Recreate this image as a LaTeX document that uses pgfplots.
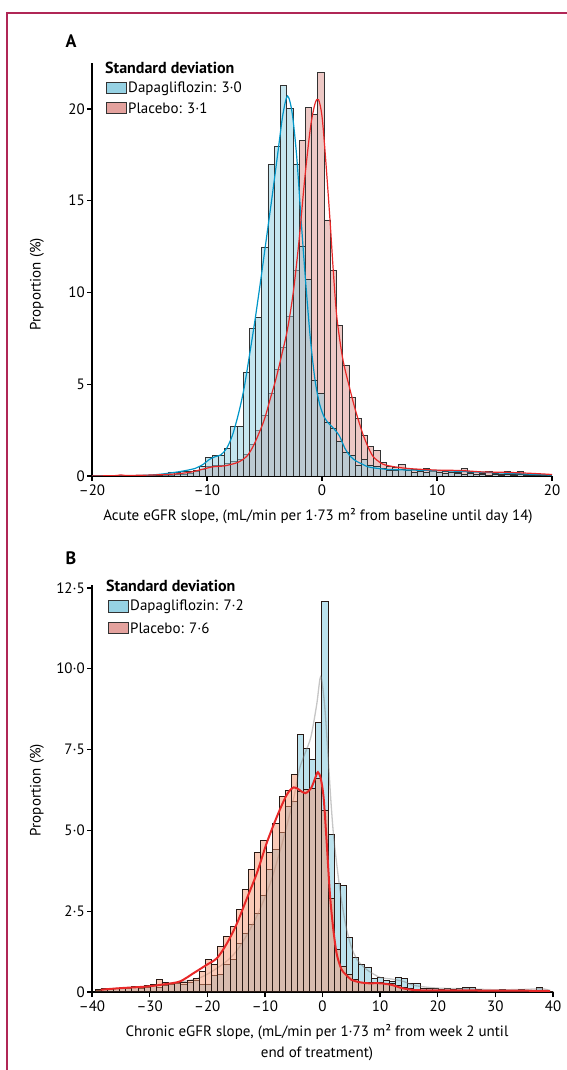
\documentclass[border=0pt]{standalone}
\usepackage{fontspec}
\setmainfont{PT Sans}
\usepackage{pgfplots}
\usepackage{pgfplotstable}
\pgfplotsset{compat=1.18}

\definecolor{dapaA}{RGB}{140,205,224}
\definecolor{placA}{RGB}{237,200,197}
\definecolor{lineblue}{RGB}{0,150,200}
\definecolor{linered}{RGB}{232,40,40}
\definecolor{dapaB}{RGB}{188,226,237}
\definecolor{placB}{RGB}{245,150,112}
\definecolor{edgeA}{RGB}{50,50,50}
\definecolor{edgeB}{RGB}{40,25,20}
\definecolor{frame}{RGB}{176,38,86}
\definecolor{swBlue}{RGB}{150,210,228}
\definecolor{swRed}{RGB}{228,162,158}

\newcommand\lf{\fontsize{15}{17}\selectfont}

% Panel A histogram: left bin edge, dapagliflozin %, placebo %
\pgfplotstableread{
e d p
-19.84 0 0
-19.30 0 0
-18.76 0 0
-18.22 0 0.03
-17.68 0 0.05
-17.14 0 0.03
-16.60 0 0
-16.06 0.02 0
-15.52 0.02 0.02
-14.98 0.03 0.02
-14.43 0.05 0.03
-13.89 0.08 0.05
-13.35 0.22 0.05
-12.81 0.18 0.08
-12.27 0.27 0.1
-11.73 0.27 0.15
-11.19 0.31 0.25
-10.65 0.5 0.35
-10.11 1.03 0.5
-9.56 1.13 0.55
-9.02 1.13 0.6
-8.48 1.52 0.7
-7.94 2.7 0.8
-7.40 2.7 0.9
-6.86 5.66 1.2
-6.32 8.05 1.7
-5.78 8.65 2.5
-5.24 12.45 3.3
-4.70 16.95 4.5
-4.15 17.95 5.8
-3.61 21.3 7.0
-3.07 20.0 8.7
-2.53 17.0 11.2
-1.99 12.5 18.3
-1.45 10.7 20.1
-0.91 5.2 19.7
-0.37 4.5 22.0
0.17 2.9 13.95
0.72 2.6 11.2
1.26 1.9 8.2
1.80 1.3 6.0
2.34 1.1 4.3
2.88 0.6 3.15
3.42 0.9 2.2
3.96 0.6 1.6
4.50 0.5 1.38
5.04 0.4 0.73
5.58 0.3 0.5
6.13 0.3 0.45
6.67 0.35 0.65
7.21 0.3 0.4
7.75 0.2 0.35
8.29 0.25 0.3
8.83 0.2 0.4
9.37 0.3 0.25
9.91 0.2 0.3
10.45 0.15 0.25
10.99 0.2 0.3
11.54 0.15 0.2
12.08 0.1 0.4
12.62 0.15 0.2
13.16 0.1 0.25
13.70 0.1 0.15
14.24 0.05 0.27
14.78 0.1 0.15
15.32 0.05 0.1
15.86 0.1 0.27
16.40 0.05 0.1
16.95 0.1 0.27
17.49 0.05 0.1
18.03 0.05 0.05
18.57 0.02 0.05
19.11 0.02 0.03
19.65 0 0
20.19 0 0
}\histA

\pgfplotstableread{
x y
-20 0
-17 0.01
-15 0.05
-14 0.1
-13 0.18
-12 0.28
-11 0.42
-10.3 0.65
-9.8 0.9
-9.3 1.05
-8.8 1.15
-8.3 1.5
-7.8 2.2
-7.3 3.3
-6.8 4.7
-6.3 6.6
-5.8 8.6
-5.3 10.8
-4.8 13.1
-4.3 15.4
-3.8 17.8
-3.4 19.7
-3.0 20.7
-2.6 19.8
-2.2 17.4
-1.8 13.8
-1.4 10.4
-1.0 7.4
-0.6 5.2
-0.2 3.9
0.2 3.2
0.6 2.85
1.0 2.6
1.5 2.2
2.0 1.5
2.5 1.05
3.0 0.8
3.5 0.65
4.0 0.5
5.0 0.4
6.0 0.35
8.0 0.32
10 0.3
12 0.25
14 0.2
16 0.15
18 0.1
20 0.05
}\kdeAd

\pgfplotstableread{
x y
-20 0
-18 0.02
-17.5 0.06
-17 0.03
-15 0.05
-13 0.1
-11.5 0.2
-10.5 0.35
-9.5 0.5
-8.5 0.55
-7.5 0.7
-7.0 0.85
-6.5 1.1
-6.0 1.6
-5.5 2.3
-5.0 3.1
-4.5 4.2
-4.0 5.3
-3.5 6.6
-3.0 8.0
-2.5 10.0
-2.0 12.8
-1.5 16.2
-1.0 19.0
-0.6 20.3
-0.3 20.5
0.0 19.6
0.3 17.4
0.7 13.9
1.0 11.0
1.3 8.6
1.8 6.4
2.4 4.8
2.9 3.6
3.6 2.2
4.3 1.2
4.8 0.85
5.5 0.6
7.3 0.42
10 0.32
12 0.3
14 0.22
16 0.2
18 0.15
19.5 0.1
20 0.08
}\kdeAp

% Panel B histogram
\pgfplotstableread{
e d p
-39.46 0.05 0.08
-38.39 0.1 0.08
-37.33 0.08 0.1
-36.26 0.1 0.12
-35.20 0.12 0.1
-34.14 0.1 0.15
-33.07 0.15 0.18
-32.01 0.12 0.15
-30.94 0.15 0.2
-29.88 0.2 0.22
-28.82 0.15 0.38
-27.75 0.2 0.3
-26.69 0.22 0.25
-25.62 0.25 0.3
-24.56 0.22 0.3
-23.50 0.3 0.35
-22.43 0.35 0.42
-21.37 0.22 0.63
-20.30 0.22 0.99
-19.24 0.5 0.84
-18.18 0.53 1.4
-17.11 0.84 1.73
-16.05 1.0 2.02
-14.98 1.5 2.54
-13.92 1.8 3.16
-12.86 2.1 3.78
-11.79 2.44 4.3
-10.73 3.0 4.7
-9.66 3.78 4.3
-8.60 4.4 5.2
-7.54 4.94 6.05
-6.47 5.74 6.23
-5.41 5.9 6.72
-4.34 7.96 6.2
-3.28 7.54 6.25
-2.22 7.2 6.3
-1.15 8.34 6.6
-0.09 12.08 5.6
0.98 4.86 2.9
2.04 3.36 1.3
3.10 3.28 0.8
4.17 1.68 0.55
5.23 1.06 0.4
6.30 0.84 0.3
7.36 0.75 0.3
8.42 0.42 0.3
9.49 0.44 0.28
10.55 0.37 0.27
11.62 0.32 0.25
12.68 0.45 0.2
13.74 0.42 0.15
14.81 0.27 0.1
15.87 0.27 0.08
16.94 0.12 0.06
18.00 0.1 0.06
19.06 0.1 0.05
20.13 0.08 0.05
21.19 0.1 0.05
22.26 0.08 0.05
23.32 0.12 0.06
24.38 0.15 0.05
25.45 0.14 0.05
26.51 0.08 0.05
27.58 0.06 0.04
28.64 0.06 0.04
29.70 0.06 0.04
30.77 0.08 0.04
31.83 0.06 0.04
32.90 0.06 0.04
33.96 0.08 0.04
35.02 0.05 0.04
36.09 0.05 0.04
37.15 0.14 0.04
38.22 0.06 0.03
39.28 0.03 0.03
40.34 0 0
}\histB

\pgfplotstableread{
x y
-38.5 0.08
-35 0.12
-30 0.18
-25 0.3
-22 0.4
-20 0.55
-17 0.9
-15 1.25
-13 1.8
-11 2.5
-9 3.4
-7 4.6
-5 6.0
-4 6.9
-3 7.4
-2 7.9
-1 8.9
-0.3 9.76
0.4 8.8
1.0 7.2
1.5 5.8
2.0 4.7
3.0 3.2
4.0 2.1
5.0 1.4
6 1.0
7 0.8
8 0.65
10 0.45
12 0.4
14 0.33
16 0.2
20 0.12
25 0.1
30 0.07
35 0.08
38 0.1
39.5 0.05
}\kdeBd

\pgfplotstableread{
x y
-38.5 0.07
-35 0.12
-30.5 0.17
-27 0.25
-24.7 0.33
-22.4 0.58
-20.1 0.84
-18.3 1.05
-16.6 1.5
-14.9 2.1
-13.2 2.86
-11.4 3.67
-9.7 4.6
-7.9 5.43
-6.2 6.1
-5.0 6.33
-4.0 6.25
-3.0 6.15
-2.0 6.3
-1.3 6.6
-0.8 6.8
-0.3 6.6
0.2 6.0
0.7 4.7
1.3 3.0
1.9 1.9
2.5 1.15
3.3 0.7
4.0 0.55
5.0 0.38
6.5 0.3
8 0.27
10 0.27
12 0.22
13.8 0.12
16 0.06
20 0.05
25 0.05
30 0.04
35 0.04
39.5 0.03
}\kdeBp

\pgfplotsset{
  myaxis/.style={
    scale only axis, anchor=south west,
    axis lines*=left,
    axis line style={line width=1.3pt, black},
    tick align=outside, major tick length=5pt,
    tick style={line width=1.3pt, black},
    enlargelimits=false, ymin=0,
    ticklabel style={font=\lf},
    xticklabel style={inner sep=1.2pt, yshift=-2.5pt},
    yticklabel style={inner sep=1.5pt, xshift=-0.5pt},
  }
}

\begin{document}
\begin{tikzpicture}[x=1pt,y=1pt]
\useasboundingbox (0,0) rectangle (567,1070);
\draw[frame, line width=1.3pt] (7,-2) -- (7,1057) -- (570,1057);

% ---------- Panel A ----------
\begin{axis}[myaxis, at={(92pt,594pt)}, width=460pt, height=413pt,
  xmin=-20, xmax=20, ymax=22.5,
  xtick={-20,-10,0,10,20}, xticklabels={–20,–10,0,10,20},
  ytick={0,5,10,15,20}, yticklabels={0,5,10,15,20}]
\addplot[ybar interval, fill=placA, draw=edgeA, line width=0.8pt] table[x=e,y=p] {\histA};
\addplot[ybar interval, fill=dapaA, fill opacity=0.5, draw=edgeA, line width=0.8pt] table[x=e,y=d] {\histA};
\addplot[lineblue, line width=1.2pt, smooth, tension=0.5] table {\kdeAd};
\addplot[linered, line width=1.2pt, smooth, tension=0.5] table {\kdeAp};
\end{axis}

% ---------- Panel B ----------
\begin{axis}[myaxis, at={(92pt,78pt)}, width=461pt, height=407pt,
  xmin=-40, xmax=40, ymax=12.59,
  xtick={-40,-30,-20,-10,0,10,20,30,40}, xticklabels={–40,–30,–20,–10,0,10,20,30,40},
  ytick={0,2.5,5,7.5,10,12.5}, yticklabels={0,2·5,5·0,7·5,10·0,12·5}]
\addplot[ybar interval, fill=dapaB, draw=edgeB, line width=1pt] table[x=e,y=d] {\histB};
\addplot[gray, line width=1.3pt, opacity=0.45, smooth, tension=0.5] table {\kdeBd};
\addplot[ybar interval, fill=placB, fill opacity=0.5, draw=edgeB, line width=1pt] table[x=e,y=p] {\histB};
\addplot[linered, line width=2pt, smooth, tension=0.5] table {\kdeBp};
\end{axis}

% ---------- Labels ----------
\node[font=\fontsize{18}{18}\selectfont\bfseries] at (71,1029) {A};
\node[font=\fontsize{18}{18}\selectfont\bfseries] at (71,512) {B};

\node[font=\lf, rotate=90] at (37,786) {Proportion (\%)};
\node[font=\lf, rotate=90] at (37,280) {Proportion (\%)};

\node[font=\lf] at (318,554) {Acute eGFR slope, (mL/min per 1·73 m² from baseline until day 14)};
\node[font=\lf] at (317,38) {Chronic eGFR slope, (mL/min per 1·73 m² from week 2 until};
\node[font=\lf] at (317,16) {end of treatment)};

% legend A
\node[font=\fontsize{16}{18}\selectfont\bfseries, anchor=west, inner sep=0pt] at (105,1002) {Standard deviation};
\draw[fill=swBlue, draw=edgeA, line width=1pt] (106,976) rectangle (126,987);
\node[font=\lf, anchor=west, inner sep=0pt] at (128,981.5) {Dapagliflozin: 3·0};
\draw[fill=swRed, draw=edgeA, line width=1pt] (106,956) rectangle (126,967);
\node[font=\lf, anchor=west, inner sep=0pt] at (128,961.5) {Placebo: 3·1};

% legend B
\node[font=\fontsize{16}{18}\selectfont\bfseries, anchor=west, inner sep=0pt] at (106,484) {Standard deviation};
\draw[fill=swBlue, draw=edgeA, line width=1pt] (108,457.3) rectangle (128,469);
\node[font=\lf, anchor=west, inner sep=0pt] at (130,463) {Dapagliflozin: 7·2};
\draw[fill=swRed, draw=edgeA, line width=1pt] (108,436) rectangle (128,447.3);
\node[font=\lf, anchor=west, inner sep=0pt] at (130,441.7) {Placebo: 7·6};
\end{tikzpicture}
\end{document}
